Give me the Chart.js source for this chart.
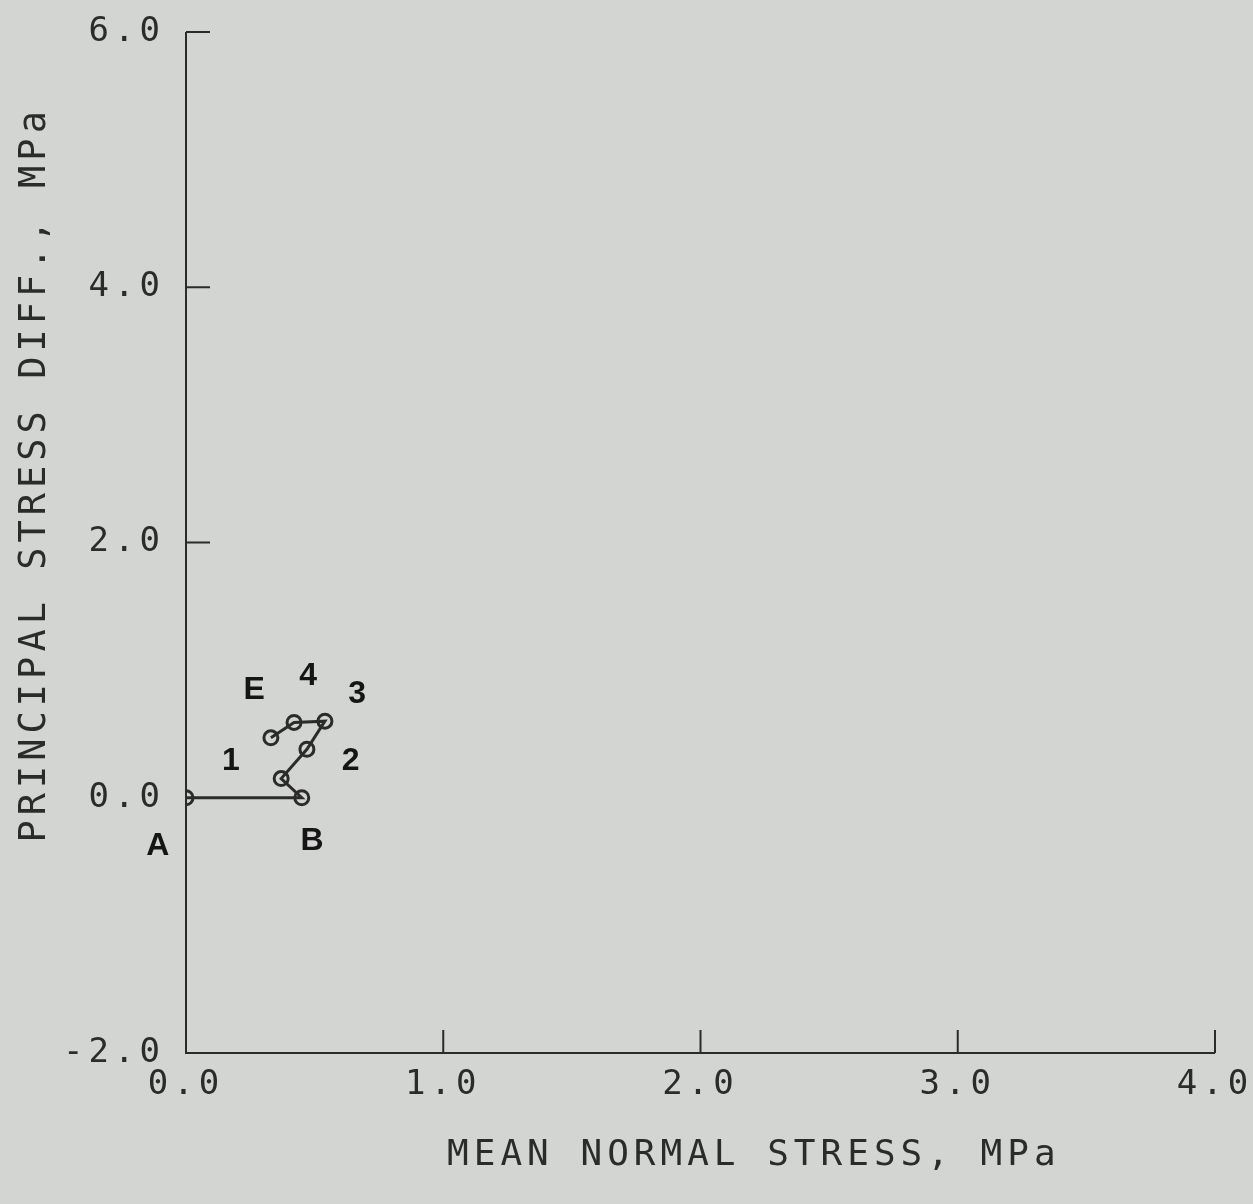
<!DOCTYPE html>
<html>
<head>
<meta charset="utf-8">
<script src="https://cdn.jsdelivr.net/npm/chart.js@4.4.1/dist/chart.umd.min.js"></script>
<style>
  html, body { margin: 0; padding: 0; background: #d3d5d2; }
  #wrap { width: 1253px; height: 1204px; }
</style>
</head>
<body>
<div id="wrap"><canvas id="c" width="1253" height="1204"></canvas></div>
<script>
// ---- data ----
const pathX = [0.0, 0.45, 0.37, 0.47, 0.54, 0.42, 0.33];
const pathY = [0.0, 0.0, 0.15, 0.38, 0.60, 0.59, 0.47];
const ptLabels = ['A', 'B', '1', '2', '3', '4', 'E'];
const labelX = [-0.11, 0.49, 0.175, 0.64, 0.665, 0.475, 0.265];
const labelY = [-0.38, -0.34, 0.29, 0.29, 0.815, 0.955, 0.84];
const xTicks = [0, 1, 2, 3, 4];
const yTicks = [-2, 0, 2, 4, 6];
const xTitle = '    MEAN NORMAL STRESS, MPa';
const yTitle = '     PRINCIPAL STRESS DIFF., MPa';

const INK = '#2b2b2b';
const MONO = '"DejaVu Sans Mono", "Liberation Mono", monospace';

const points = pathX.map((x, i) => ({ x: x, y: pathY[i] }));

const spacingPlugin = {
  id: 'spacing',
  beforeDraw(chart) { chart.ctx.letterSpacing = '5px'; }
};

const axesPlugin = {
  id: 'axesLines',
  afterDraw(chart) {
    const { ctx, scales: { x, y } } = chart;
    ctx.save();
    ctx.letterSpacing = '0px';
    ctx.strokeStyle = INK;
    ctx.lineWidth = 2;
    const x0 = x.getPixelForValue(xTicks[0]);
    const xN = x.getPixelForValue(xTicks[xTicks.length - 1]);
    const y0 = y.getPixelForValue(yTicks[0]);
    const yN = y.getPixelForValue(yTicks[yTicks.length - 1]);
    ctx.beginPath();
    ctx.moveTo(x0, yN); ctx.lineTo(x0, y0); ctx.lineTo(xN, y0);
    ctx.stroke();
    ctx.beginPath();
    yTicks.forEach(v => {
      if (v === yTicks[0] || v === 0) return;
      const py = y.getPixelForValue(v);
      ctx.moveTo(x0, py); ctx.lineTo(x0 + 24, py);
    });
    xTicks.forEach(v => {
      if (v === xTicks[0]) return;
      const px = x.getPixelForValue(v);
      ctx.moveTo(px, y0); ctx.lineTo(px, y0 - 23);
    });
    ctx.stroke();
    // point labels
    ctx.fillStyle = '#151515';
    ctx.font = 'bold 32px "Liberation Sans", Arial, sans-serif';
    ctx.textAlign = 'center';
    ctx.textBaseline = 'middle';
    ptLabels.forEach((t, i) => {
      ctx.fillText(t, x.getPixelForValue(labelX[i]), y.getPixelForValue(labelY[i]));
    });
    ctx.restore();
  }
};

new Chart(document.getElementById('c'), {
  type: 'scatter',
  data: {
    datasets: [{
      data: points,
      showLine: true,
      borderColor: INK,
      borderWidth: 3,
      pointRadius: 7,
      pointBorderWidth: 3,
      pointBorderColor: INK,
      pointBackgroundColor: 'rgba(0,0,0,0)',
      pointStyle: 'circle',
      tension: 0
    }]
  },
  options: {
    responsive: false,
    animation: false,
    devicePixelRatio: 1,
    layout: { padding: { top: 32, right: 38, left: 0, bottom: 0 } },
    plugins: { legend: { display: false }, tooltip: { enabled: false } },
    scales: {
      x: {
        type: 'linear',
        min: xTicks[0], max: xTicks[xTicks.length - 1],
        grid: { display: false, drawTicks: false },
        border: { display: false },
        afterBuildTicks: s => { s.ticks = xTicks.map(v => ({ value: v })); },
        ticks: {
          autoSkip: false, maxRotation: 0, padding: 12,
          color: INK, font: { family: MONO, size: 34 },
          callback: v => Number(v).toFixed(1)
        },
        title: {
          display: true, text: xTitle, color: INK,
          font: { family: MONO, size: 36 }, padding: { top: 0, bottom: 27 }
        },
        afterFit: s => { s.height = 151; s.paddingLeft = 0; s.paddingRight = 0; }
      },
      y: {
        type: 'linear',
        min: yTicks[0], max: yTicks[yTicks.length - 1],
        grid: { display: false, drawTicks: false },
        border: { display: false },
        afterBuildTicks: s => { s.ticks = yTicks.map(v => ({ value: v })); },
        ticks: {
          autoSkip: false, padding: 21,
          color: INK, font: { family: MONO, size: 34 },
          callback: v => Number(v).toFixed(1)
        },
        title: {
          display: true, text: yTitle, color: INK,
          font: { family: MONO, size: 37 }, padding: { top: 13, bottom: 0 }
        },
        afterFit: s => { s.width = 186; s.paddingTop = 0; s.paddingBottom = 0; }
      }
    }
  },
  plugins: [spacingPlugin, axesPlugin]
});
</script>
</body>
</html>
